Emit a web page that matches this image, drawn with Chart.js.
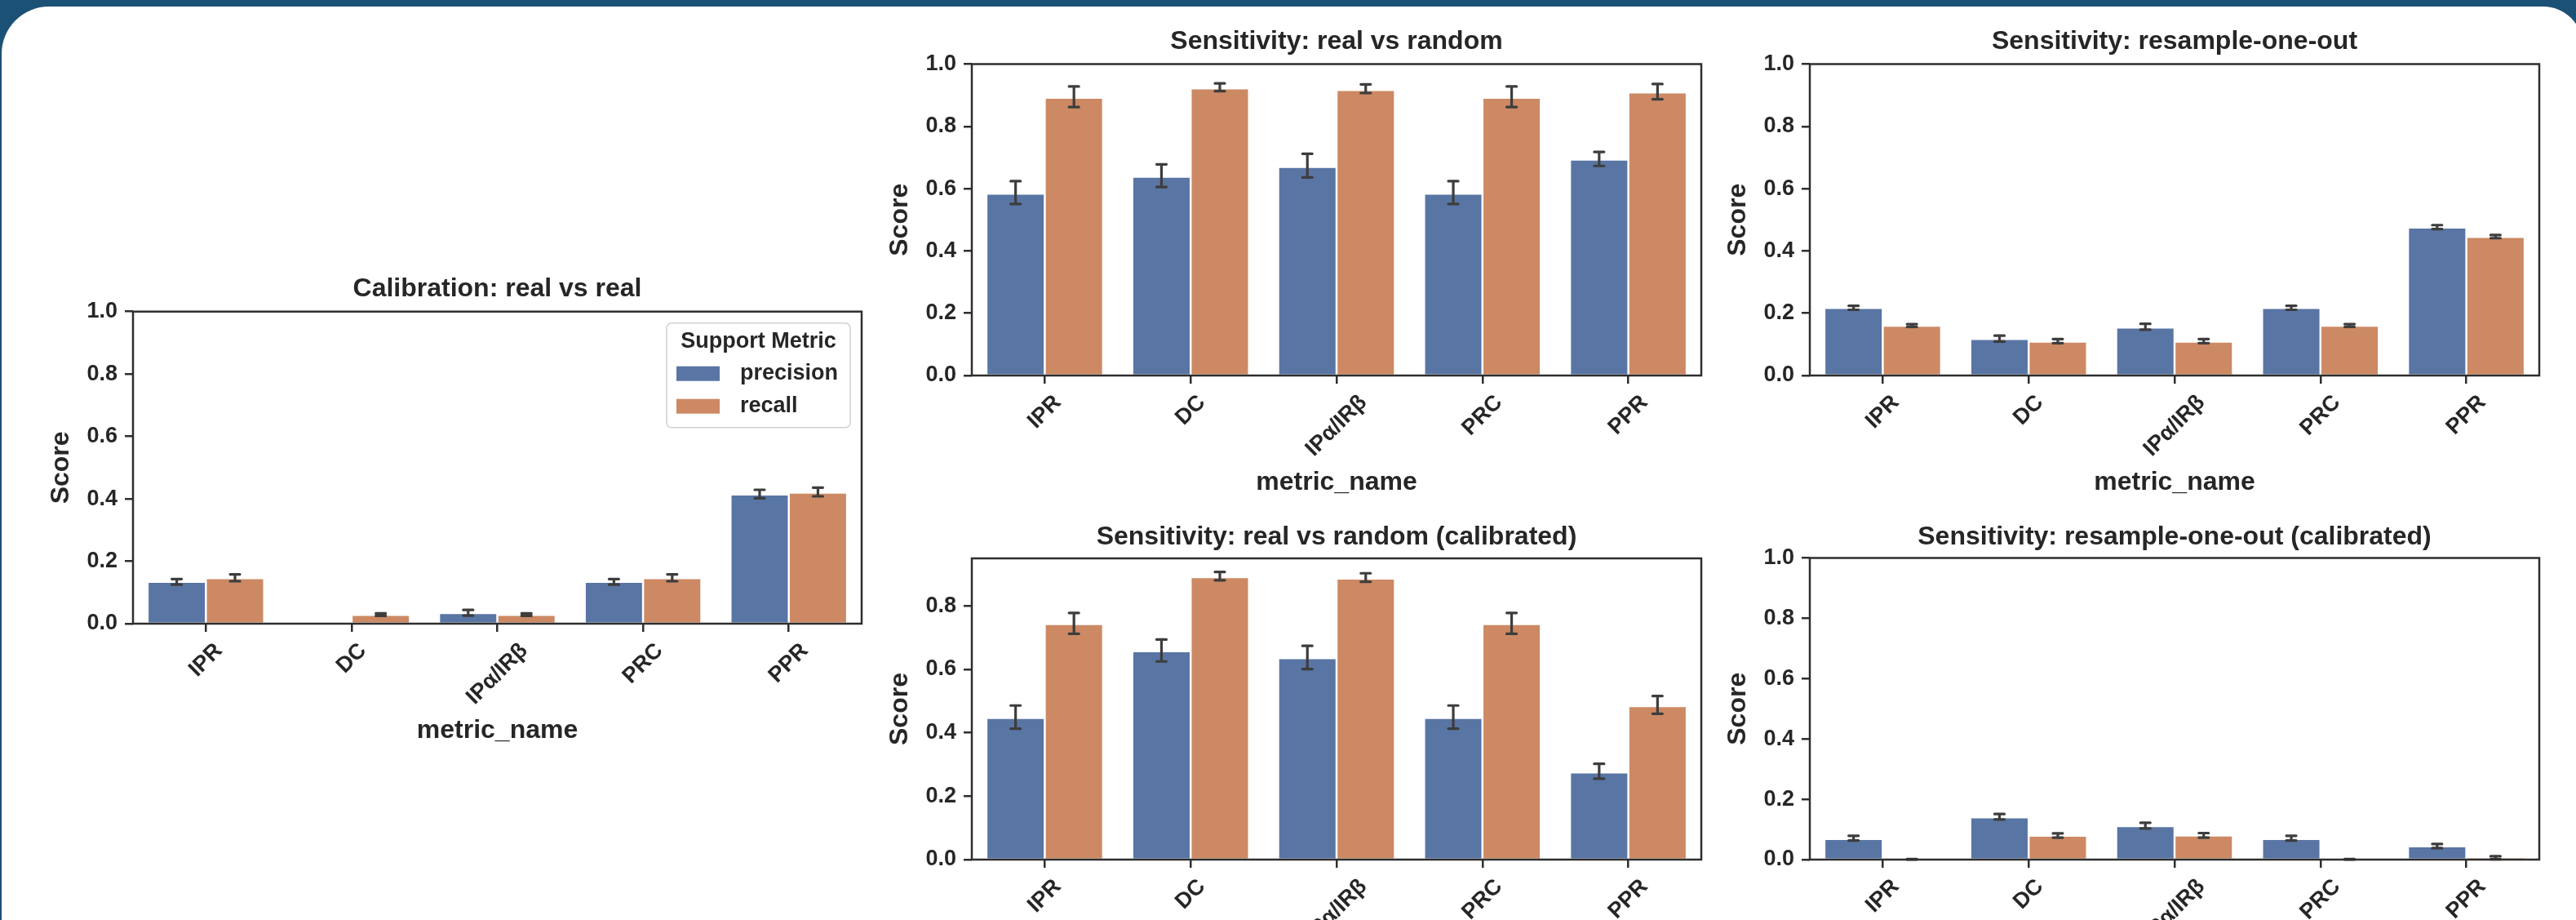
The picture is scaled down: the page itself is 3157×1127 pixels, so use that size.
<!DOCTYPE html>
<html>
<head>
<meta charset="utf-8">
<script src="https://cdn.jsdelivr.net/npm/chart.js@4.4.1/dist/chart.umd.min.js"></script>
<style>
  html, body { margin: 0; padding: 0; width: 3157px; height: 1127px; overflow: hidden; background: #1b5175; }
  #sheet { position: absolute; left: 2px; top: 8px; width: 3163px; height: 1200px; background: #fff; border-radius: 58px 48px 0 0; }
  canvas { position: absolute; }
</style>
</head>
<body>
<div id="sheet"></div>
<canvas id="calib"></canvas>
<canvas id="rand"></canvas>
<canvas id="loo"></canvas>
<canvas id="randCal"></canvas>
<canvas id="looCal"></canvas>
<script>
// categories
var metricNames = ['IPR', 'DC', 'IPα/IRβ', 'PRC', 'PPR'];
var seriesNames = ['precision', 'recall'];

// Calibration: real vs real
var calibPrecision = [0.134, 0, 0.034, 0.134, 0.414];
var calibPrecisionCI = [[0.125, 0.143], null, [0.026, 0.044], [0.125, 0.143], [0.402, 0.429]];
var calibRecall = [0.146, 0.028, 0.028, 0.146, 0.420];
var calibRecallCI = [[0.136, 0.158], [0.025, 0.033], [0.025, 0.033], [0.136, 0.158], [0.408, 0.436]];

// Sensitivity: real vs random
var randPrecision = [0.584, 0.638, 0.670, 0.584, 0.693];
var randPrecisionCI = [[0.551, 0.624], [0.605, 0.678], [0.636, 0.712], [0.551, 0.624], [0.673, 0.718]];
var randRecall = [0.892, 0.922, 0.917, 0.892, 0.909];
var randRecallCI = [[0.862, 0.928], [0.913, 0.938], [0.907, 0.935], [0.862, 0.928], [0.887, 0.936]];

// Sensitivity: resample-one-out
var looPrecision = [0.217, 0.117, 0.154, 0.217, 0.475];
var looPrecisionCI = [[0.211, 0.224], [0.109, 0.128], [0.147, 0.166], [0.211, 0.224], [0.470, 0.483]];
var looRecall = [0.160, 0.109, 0.109, 0.160, 0.445];
var looRecallCI = [[0.156, 0.165], [0.104, 0.117], [0.104, 0.117], [0.156, 0.165], [0.441, 0.451]];

// Sensitivity: real vs random (calibrated)
var randCalPrecision = [0.447, 0.657, 0.635, 0.447, 0.275];
var randCalPrecisionCI = [[0.413, 0.486], [0.625, 0.694], [0.601, 0.674], [0.413, 0.486], [0.255, 0.302]];
var randCalRecall = [0.743, 0.891, 0.886, 0.743, 0.484];
var randCalRecallCI = [[0.712, 0.778], [0.881, 0.907], [0.876, 0.903], [0.712, 0.778], [0.460, 0.516]];

// Sensitivity: resample-one-out (calibrated)
var looCalPrecision = [0.068, 0.140, 0.111, 0.068, 0.044];
var looCalPrecisionCI = [[0.063, 0.079], [0.133, 0.151], [0.103, 0.122], [0.063, 0.079], [0.038, 0.052]];
var looCalRecall = [0.000, 0.079, 0.080, 0.000, 0.006];
var looCalRecallCI = [[0, 0.002], [0.073, 0.087], [0.073, 0.088], [0, 0.002], [0.001, 0.011]];

var FONT = '"Liberation Sans", Arial, sans-serif';
var TEXT = '#262626';
var SPINE = '#2e2e2e';
var ERR = '#3d3d3d';
var colors = ['#5975a4', '#cc8963'];

Chart.defaults.font.family = FONT;
Chart.defaults.color = TEXT;

// error bars + full frame (matplotlib spines)
var errorBarPlugin = {
  id: 'errorBars',
  afterDatasetsDraw: function (chart) {
    var ctx = chart.ctx;
    var y = chart.scales.y;
    ctx.save();
    ctx.strokeStyle = ERR;
    ctx.lineWidth = 3.2;
    ctx.lineCap = 'round';
    chart.data.datasets.forEach(function (ds, i) {
      var meta = chart.getDatasetMeta(i);
      meta.data.forEach(function (bar, j) {
        var ci = ds.ci[j];
        if (!ci) return;
        var lo = y.getPixelForValue(ci[0]);
        var hi = y.getPixelForValue(ci[1]);
        ctx.beginPath();
        ctx.moveTo(bar.x, lo); ctx.lineTo(bar.x, hi);
        ctx.moveTo(bar.x - 6, lo); ctx.lineTo(bar.x + 6, lo);
        ctx.moveTo(bar.x - 6, hi); ctx.lineTo(bar.x + 6, hi);
        ctx.stroke();
      });
    });
    var a = chart.chartArea;
    ctx.lineCap = 'butt';
    ctx.strokeStyle = SPINE;
    ctx.lineWidth = 2.5;
    ctx.strokeRect(a.left, a.top, a.right - a.left, a.bottom - a.top);
    ctx.restore();
  }
};

// rotated x labels centred on their ticks, like matplotlib
var xLabelPlugin = {
  id: 'xLabels',
  afterDraw: function (chart) {
    var ctx = chart.ctx;
    var x = chart.scales.x;
    ctx.save();
    ctx.font = 'bold 27px ' + FONT;
    ctx.fillStyle = TEXT;
    ctx.textAlign = 'center';
    ctx.textBaseline = 'middle';
    chart.data.labels.forEach(function (label, i) {
      var px = x.getPixelForTick(i);
      var w = ctx.measureText(label).width;
      var cy = x.top + 10 + 12 + (w + 19.5) * 0.3536;
      ctx.save();
      ctx.translate(px, cy);
      ctx.rotate(-Math.PI / 4);
      ctx.fillText(label, 0, 0);
      ctx.restore();
    });
    ctx.restore();
  }
};

var legendPlugin = {
  id: 'boxLegend',
  afterDraw: function (chart) {
    if (!chart.options.plugins.boxLegend.show) return;
    var ctx = chart.ctx;
    var a = chart.chartArea;
    var w = 225, h = 128;
    var x0 = a.right - 14 - w, y0 = a.top + 14;
    ctx.save();
    ctx.beginPath();
    ctx.roundRect(x0, y0, w, h, 6);
    ctx.fillStyle = 'rgba(255,255,255,0.8)';
    ctx.fill();
    ctx.strokeStyle = '#d0d0d0';
    ctx.lineWidth = 1.5;
    ctx.stroke();
    ctx.fillStyle = TEXT;
    ctx.font = 'bold 27px ' + FONT;
    ctx.textBaseline = 'middle';
    ctx.textAlign = 'center';
    ctx.fillText('Support Metric', x0 + w / 2, y0 + 23);
    ctx.textAlign = 'left';
    chart.data.datasets.forEach(function (ds, i) {
      var cy = y0 + 62 + i * 40;
      ctx.fillStyle = ds.backgroundColor;
      ctx.fillRect(x0 + 12, cy - 9, 53, 18);
      ctx.fillStyle = TEXT;
      ctx.fillText(ds.label, x0 + 90, cy);
    });
    ctx.restore();
  }
};

function makeChart(id, box, area, title, titleMid, xTitleMid, yMax, series, cis, legend) {
  var cv = document.getElementById(id);
  cv.width = box.w; cv.height = box.h;
  cv.style.left = box.x + 'px'; cv.style.top = box.y + 'px';
  cv.style.width = box.w + 'px'; cv.style.height = box.h + 'px';
  var lh = 32 * 1.2;
  var tTop = titleMid - box.y - lh / 2;
  var tBottom = area.t - box.y - tTop - lh;
  var yWidth = area.l - box.x;
  var xHeight = box.y + box.h - area.b;
  var scoreMid = area.l - 88;
  return new Chart(cv, {
    type: 'bar',
    data: {
      labels: metricNames,
      datasets: series.map(function (vals, i) {
        return {
          label: seriesNames[i],
          data: vals,
          ci: cis[i],
          backgroundColor: colors[i],
          borderColor: '#ffffff',
          borderWidth: 1.25,
          categoryPercentage: 0.8,
          barPercentage: 1.0
        };
      })
    },
    options: {
      responsive: false,
      animation: false,
      devicePixelRatio: 1,
      layout: { autoPadding: false, padding: { left: 0, top: 0, bottom: 0, right: box.x + box.w - area.r } },
      plugins: {
        legend: { display: false },
        tooltip: { enabled: false },
        boxLegend: { show: legend },
        title: {
          display: true, text: title, fullSize: false, color: TEXT,
          font: { size: 32, weight: 'bold' },
          padding: { top: tTop, bottom: tBottom }
        }
      },
      scales: {
        x: {
          type: 'category',
          offset: true,
          afterFit: function (s) { s.height = xHeight; },
          grid: { offset: false, drawOnChartArea: false, drawTicks: true, tickLength: 10, color: SPINE, lineWidth: 2.5 },
          border: { display: false },
          ticks: { display: false },
          title: {
            display: true, text: 'metric_name', color: TEXT,
            font: { size: 32, weight: 'bold' },
            padding: { top: 0, bottom: box.y + box.h - xTitleMid - lh / 2 }
          }
        },
        y: {
          min: 0, max: yMax,
          afterFit: function (s) { s.width = yWidth; },
          grid: { drawOnChartArea: false, drawTicks: true, tickLength: 10, color: SPINE, lineWidth: 2.5 },
          border: { display: false },
          ticks: {
            stepSize: 0.2, includeBounds: false, padding: 9, color: TEXT,
            font: { size: 27, weight: 'bold' },
            callback: function (v) { return Number(v).toFixed(1); }
          },
          title: {
            display: true, text: 'Score', color: TEXT,
            font: { size: 32, weight: 'bold' },
            padding: { top: scoreMid - box.x - lh / 2, bottom: 0 }
          }
        }
      }
    },
    plugins: [errorBarPlugin, xLabelPlugin, legendPlugin]
  });
}

makeChart('calib', { x: 0, y: 300, w: 1100, h: 660 }, { l: 163, r: 1056, t: 381.7, b: 764 },
  'Calibration: real vs real', 354, 895, 1.0,
  [calibPrecision, calibRecall], [calibPrecisionCI, calibRecallCI], true);
makeChart('rand', { x: 1060, y: 0, w: 1040, h: 640 }, { l: 1191, r: 2085, t: 78.5, b: 460 },
  'Sensitivity: real vs random', 51, 591, 1.0,
  [randPrecision, randRecall], [randPrecisionCI, randRecallCI], false);
makeChart('loo', { x: 2090, y: 0, w: 1067, h: 640 }, { l: 2218, r: 3112, t: 78.5, b: 460 },
  'Sensitivity: resample-one-out', 51, 591, 1.0,
  [looPrecision, looRecall], [looPrecisionCI, looRecallCI], false);
makeChart('randCal', { x: 1060, y: 610, w: 1040, h: 640 }, { l: 1191, r: 2085, t: 684, b: 1053 },
  'Sensitivity: real vs random (calibrated)', 658, 1184, 0.95,
  [randCalPrecision, randCalRecall], [randCalPrecisionCI, randCalRecallCI], false);
makeChart('looCal', { x: 2090, y: 610, w: 1067, h: 640 }, { l: 2218, r: 3112, t: 683.5, b: 1053 },
  'Sensitivity: resample-one-out (calibrated)', 658, 1184, 1.0,
  [looCalPrecision, looCalRecall], [looCalPrecisionCI, looCalRecallCI], false);
</script>
</body>
</html>
